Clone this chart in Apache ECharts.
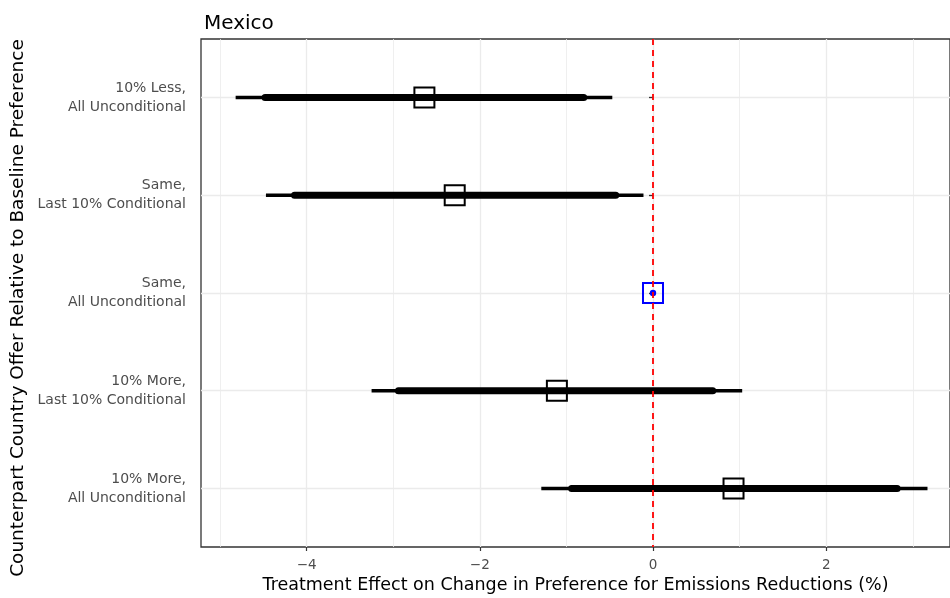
<!DOCTYPE html>
<html>
<head>
<meta charset="utf-8">
<script src="https://cdn.jsdelivr.net/npm/echarts@6/dist/echarts.min.js"></script>
<style>
html,body{margin:0;padding:0;background:#fff;}
#chart{width:950px;height:598px;}
</style>
</head>
<body>
<div id="chart"></div>
<script>
// ---- data ----
const categories = [
  "10% Less,\nAll Unconditional",
  "Same,\nLast 10% Conditional",
  "Same,\nAll Unconditional",
  "10% More,\nLast 10% Conditional",
  "10% More,\nAll Unconditional"
];
const estimate  = [-2.64, -2.29, 0, -1.11, 0.93];
const ci95Low   = [-4.82, -4.47, null, -3.25, -1.29];
const ci95High  = [-0.47, -0.11, null, 1.03, 3.17];
const ci90Low   = [-4.48, -4.14, null, -2.94, -0.94];
const ci90High  = [-0.80, -0.43, null, 0.69, 2.82];
const isReference = [false, false, true, false, false];
const xMajorTicks = [-4, -2, 0, 2];
const xMinorTicks = [-5, -3, -1, 1, 3];
const yTicks = [1, 2, 3, 4, 5];
const yTitle = 'Counterpart Country Offer Relative to Baseline Preference';
const xTitle = 'Treatment Effect on Change in Preference for Emissions Reductions (%)';

const FONT = "'DejaVu Sans', sans-serif";

const rows = categories.map((c, i) => [
  estimate[i],
  ci95Low[i] == null ? estimate[i] : ci95Low[i],
  ci95High[i] == null ? estimate[i] : ci95High[i],
  ci90Low[i] == null ? estimate[i] : ci90Low[i],
  ci90High[i] == null ? estimate[i] : ci90High[i],
  i + 1,
  isReference[i] ? 1 : 0
]);

const chart = echarts.init(document.getElementById('chart'), null, {renderer: 'canvas'});

const X_MIN = -5.22, X_MAX = 3.43;

chart.setOption({
  animation: false,
  backgroundColor: '#ffffff',
  title: {
    text: 'Mexico',
    left: 199, top: 9,
    textStyle: {fontFamily: FONT, fontSize: 20, fontWeight: 'normal', color: '#000'}
  },
  graphic: [{
    type: 'text',
    x: 18, y: 308,
    rotation: Math.PI / 2,
    style: {
      text: yTitle, fontFamily: FONT, fontSize: 18.5, fill: '#000',
      align: 'center', verticalAlign: 'middle'
    }
  }],
  grid: {
    left: 201, right: 0, top: 39, bottom: 51,
    containLabel: false, outerBoundsMode: 'none',
    show: true, borderColor: '#333333', borderWidth: 1.3, backgroundColor: 'transparent'
  },
  xAxis: [
    {
      type: 'value', min: X_MIN, max: X_MAX,
      axisLine: {show: false},
      axisTick: {show: true, length: 4, customValues: xMajorTicks, lineStyle: {color: '#333', width: 1.2}},
      axisLabel: {
        customValues: xMajorTicks, margin: 11,
        fontFamily: FONT, fontSize: 13.5, color: '#4D4D4D',
        formatter: v => (v < 0 ? '\u2212' + Math.abs(v) : String(v))
      },
      splitLine: {show: true, lineStyle: {color: '#EBEBEB', width: 1.3}},
      name: xTitle,
      nameLocation: 'middle', nameGap: 27,
      nameTextStyle: {fontFamily: FONT, fontSize: 17.5, color: '#000'}
    },
    {
      type: 'value', min: X_MIN, max: X_MAX, position: 'bottom',
      axisLine: {show: false},
      axisTick: {show: false, customValues: xMinorTicks},
      axisLabel: {show: false, customValues: xMinorTicks},
      splitLine: {show: true, lineStyle: {color: '#EBEBEB', width: 0.8}}
    }
  ],
  yAxis: {
    type: 'value', min: 0.4, max: 5.6, inverse: true,
    axisLine: {show: false},
    axisTick: {show: true, length: 4, customValues: yTicks, lineStyle: {color: '#333', width: 1.3}},
    axisLabel: {
      customValues: yTicks, margin: 15,
      fontFamily: FONT, fontSize: 14, color: '#4D4D4D', lineHeight: 19, align: 'right',
      formatter: v => categories[Math.round(v) - 1] || ''
    },
    splitLine: {show: true, lineStyle: {color: '#EBEBEB', width: 1.3}}
  },
  series: [
    {
      type: 'custom',
      xAxisIndex: 0,
      z: 2,
      data: rows,
      encode: {x: [0, 1, 2, 3, 4], y: 5},
      renderItem: function (params, api) {
        const y = api.value(5);
        const est = api.coord([api.value(0), y]);
        const l95 = api.coord([api.value(1), y]);
        const h95 = api.coord([api.value(2), y]);
        const l90 = api.coord([api.value(3), y]);
        const h90 = api.coord([api.value(4), y]);
        const ref = api.value(6) === 1;
        const half = 10;
        const children = [];
        if (!ref) {
          children.push({
            type: 'line',
            shape: {x1: l95[0], y1: l95[1], x2: h95[0], y2: h95[1]},
            style: {stroke: '#000', lineWidth: 3.5}
          });
          children.push({
            type: 'line',
            shape: {x1: l90[0], y1: l90[1], x2: h90[0], y2: h90[1]},
            style: {stroke: '#000', lineWidth: 7, lineCap: 'round'}
          });
        }
        const col = ref ? '#0000FF' : '#000000';
        children.push({
          type: 'rect',
          shape: {x: est[0] - half, y: est[1] - half, width: 2 * half, height: 2 * half},
          style: {fill: 'none', stroke: col, lineWidth: 2}
        });
        if (ref) {
          children.push({
            type: 'circle',
            shape: {cx: est[0], cy: est[1], r: 3.2},
            style: {fill: '#0000FF'}
          });
        }
        return {type: 'group', children: children};
      }
    },
    {
      type: 'custom',
      xAxisIndex: 0,
      z: 1,
      data: [],
      renderItem: function () { return null; },
      markLine: {
        silent: true,
        symbol: 'none',
        label: {show: false},
        lineStyle: {color: '#FF0000', type: [6, 5], width: 1.8},
        data: [{xAxis: 0}]
      }
    }
  ]
});
</script>
</body>
</html>
